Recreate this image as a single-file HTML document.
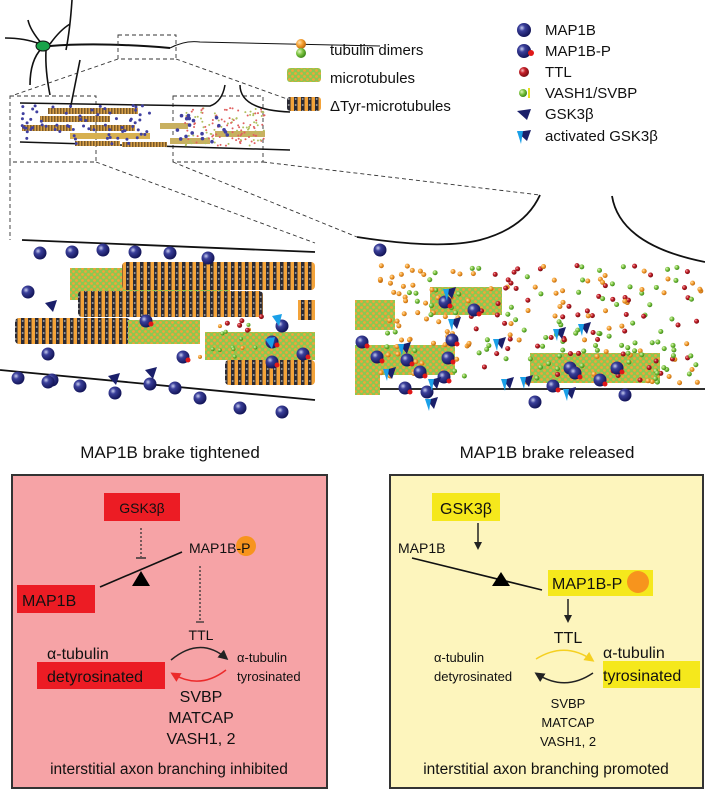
<!DOCTYPE html>
<html><head><meta charset="utf-8"><style>
body{margin:0;background:#fff;width:705px;height:790px;overflow:hidden;font-family:"Liberation Sans",sans-serif}
svg{position:absolute;left:0;top:0}
</style></head><body>
<svg width="705" height="790" viewBox="0 0 705 790" font-family="Liberation Sans, sans-serif">
<defs>
<radialGradient id="blue" cx="35%" cy="35%" r="65%"><stop offset="0" stop-color="#c8cdf0"/><stop offset="0.35" stop-color="#3a3f9a"/><stop offset="1" stop-color="#14165a"/></radialGradient>
<radialGradient id="red" cx="35%" cy="35%" r="65%"><stop offset="0" stop-color="#f6c0c0"/><stop offset="0.4" stop-color="#c8202a"/><stop offset="1" stop-color="#7a0d12"/></radialGradient>
<radialGradient id="org" cx="35%" cy="35%" r="65%"><stop offset="0" stop-color="#ffe0b0"/><stop offset="0.5" stop-color="#f5a030"/><stop offset="1" stop-color="#c06a10"/></radialGradient>
<radialGradient id="grn" cx="35%" cy="35%" r="65%"><stop offset="0" stop-color="#e0f5c0"/><stop offset="0.5" stop-color="#7cc440"/><stop offset="1" stop-color="#3f8a1a"/></radialGradient>
<pattern id="dty" width="7" height="6" patternUnits="userSpaceOnUse"><rect width="7" height="6" fill="#f3a33a"/><rect x="0" width="3.5" height="6" fill="#2a2a35"/><circle cx="1.7" cy="3" r="1" fill="#999"/></pattern>
<pattern id="mt" width="6" height="6" patternUnits="userSpaceOnUse"><rect width="6" height="6" fill="#8cc850"/><circle cx="1.5" cy="1.5" r="1.4" fill="#f3a33a"/><circle cx="4.5" cy="4.5" r="1.4" fill="#f3a33a"/></pattern>
<pattern id="dtys" width="3" height="3" patternUnits="userSpaceOnUse"><rect width="3" height="3" fill="#d7a04a"/><rect width="1.5" height="3" fill="#7a5a2a"/></pattern>
<marker id="ak" markerWidth="8" markerHeight="8" refX="6" refY="4" orient="auto" markerUnits="userSpaceOnUse"><path d="M0,0 L8,4 L0,8 Z" fill="#222"/></marker>
<marker id="ar" markerWidth="10" markerHeight="10" refX="7" refY="5" orient="auto" markerUnits="userSpaceOnUse"><path d="M0,0 L10,5 L0,10 Z" fill="#ec2a2a"/></marker>
<marker id="ay" markerWidth="10" markerHeight="10" refX="7" refY="5" orient="auto" markerUnits="userSpaceOnUse"><path d="M0,0 L10,5 L0,10 Z" fill="#f5d020"/></marker>
<marker id="ab" markerWidth="10" markerHeight="10" refX="7" refY="5" orient="auto" markerUnits="userSpaceOnUse"><path d="M0,0 L10,5 L0,10 Z" fill="#222"/></marker>
</defs>

<g stroke="#111" fill="none" stroke-width="1.6">
<path d="M5,38 Q25,38 40,44"/><path d="M72,0 Q70,30 66,50"/><path d="M42,44 Q30,30 28,20"/><path d="M42,48 Q30,60 30,85"/><path d="M46,50 Q45,70 50,95"/><path d="M50,44 Q60,30 70,24"/>
<path d="M80,60 Q75,85 70,110"/>
<path d="M50,46 Q100,42 170,48" stroke-width="2"/><path d="M170,48 Q185,40 200,42 L380,46" stroke-width="1"/>
</g>
<ellipse cx="43" cy="46" rx="7" ry="5" fill="#1aa34a" stroke="#111"/>
<g stroke="#333" fill="none" stroke-dasharray="4,3" stroke-width="0.9">
<rect x="118" y="35" width="58" height="24"/>
<path d="M118,59 L14,95 M176,59 L290,100"/>
<rect x="10" y="96" width="86" height="66"/><rect x="173" y="96" width="90" height="66"/>
<path d="M10,162 L10,240 M96,162 L315,243 M173,162 L357,237 M263,162 L540,195"/>
</g>
<g stroke="#111" fill="none" stroke-width="1.5">
<path d="M20,103 L210,106 Q222,102 225,85"/><path d="M240,85 Q240,110 290,112"/><path d="M20,142 L290,150"/>
</g>
<rect x="48" y="108" width="90" height="6" fill="url(#dtys)"/><rect x="40" y="116" width="70" height="6" fill="url(#dtys)"/>
<rect x="22" y="125" width="50" height="6" fill="url(#dtys)"/><rect x="90" y="125" width="45" height="6" fill="url(#dtys)"/>
<rect x="70" y="133" width="80" height="6" fill="#d7b050"/><rect x="75" y="141" width="45" height="5" fill="url(#dtys)"/><rect x="122" y="142" width="45" height="5" fill="url(#dtys)"/>
<rect x="160" y="123" width="28" height="6" fill="#c8b060"/><rect x="170" y="138" width="40" height="6" fill="#c8b060"/><rect x="215" y="131" width="50" height="6" fill="#c8b060"/>
<g id="insetdots"></g>

<circle cx="301" cy="44" r="5" fill="url(#org)"/><circle cx="301" cy="53" r="5" fill="url(#grn)"/>
<rect x="287" y="68" width="34" height="14" rx="3" fill="url(#mt)"/>
<rect x="287" y="97" width="34" height="14" rx="3" fill="url(#dty)"/>
<g font-size="15" fill="#111">
<text x="330" y="55">tubulin dimers</text><text x="330" y="83">microtubules</text><text x="330" y="111">ΔTyr-microtubules</text>
<text x="545" y="35">MAP1B</text><text x="545" y="56">MAP1B-P</text><text x="545" y="77">TTL</text><text x="545" y="98">VASH1/SVBP</text><text x="545" y="119">GSK3β</text><text x="545" y="141">activated GSK3β</text>
</g>
<circle cx="524" cy="30" r="7" fill="url(#blue)"/><circle cx="524" cy="51" r="7" fill="url(#blue)"/><circle cx="531" cy="53" r="3" fill="#e01818"/>
<circle cx="524" cy="72" r="5" fill="url(#red)"/><circle cx="523" cy="93" r="4" fill="url(#grn)"/><rect x="528" y="88" width="2" height="10" fill="#e8e020"/>
<path d="M517,111 L531,109 L527,120 Z" fill="#1a1f6a"/>
<path d="M517,132 L531,130 L527,141 Z" fill="#1a1f6a"/><path d="M517,131 L523,131 L521,144 Z" fill="#1aa0e8"/>

<g stroke="#111" fill="none" stroke-width="1.8"><path d="M22,240 L315,252"/><path d="M0,370 L315,400"/></g>
<rect x="70" y="268" width="160" height="32" fill="url(#mt)"/>
<rect x="122" y="262" width="193" height="28" rx="4" fill="url(#dty)"/>
<rect x="78" y="291" width="185" height="26" rx="4" fill="url(#dty)"/>
<rect x="15" y="318" width="115" height="26" rx="4" fill="url(#dty)"/>
<rect x="128" y="320" width="72" height="24" fill="url(#mt)"/>
<rect x="205" y="332" width="110" height="28" fill="url(#mt)"/>
<rect x="225" y="360" width="90" height="25" rx="4" fill="url(#dty)"/>
<rect x="298" y="300" width="17" height="20" fill="url(#dty)"/>
<g id="leftdots"></g>

<g stroke="#111" fill="none" stroke-width="1.8"><path d="M357,237 Q440,250 480,240 Q525,228 540,195"/><path d="M612,196 Q620,245 705,262"/><path d="M357,389 L705,389"/></g>
<rect x="430" y="287" width="72" height="28" fill="url(#mt)"/>
<rect x="355" y="300" width="40" height="30" fill="url(#mt)"/>
<rect x="355" y="345" width="100" height="30" fill="url(#mt)"/>
<rect x="530" y="353" width="130" height="30" fill="url(#mt)"/>
<rect x="355" y="368" width="25" height="27" fill="url(#mt)"/>
<g id="rightdots"></g>

<text x="170" y="458" font-size="17" text-anchor="middle" fill="#111">MAP1B brake tightened</text>
<text x="547" y="458" font-size="17" text-anchor="middle" fill="#111">MAP1B brake released</text>

<rect x="12" y="475" width="315" height="313" fill="#f6a3a6" stroke="#333" stroke-width="2"/>
<rect x="104" y="493" width="76" height="28" fill="#ec1c24"/>
<text x="142" y="513" font-size="14" text-anchor="middle" fill="#111">GSK3β</text>
<path d="M141,528 L141,557" stroke="#333" stroke-dasharray="2,2" stroke-width="1.3"/><path d="M136,558 L146,558" stroke="#333" stroke-width="1.5"/>
<circle cx="246" cy="546" r="10" fill="#f7941d"/>
<text x="189" y="553" font-size="14" fill="#111">MAP1B-P</text>
<path d="M100,587 L182,552" stroke="#111" stroke-width="1.6"/>
<path d="M141,571 L150,586 L132,586 Z" fill="#000"/>
<path d="M200,566 L200,621" stroke="#333" stroke-dasharray="2,2" stroke-width="1.3"/><path d="M196,622 L204,622" stroke="#333" stroke-width="1.3"/>
<rect x="17" y="585" width="78" height="28" fill="#ec1c24"/>
<text x="22" y="606" font-size="16" fill="#111">MAP1B</text>
<text x="201" y="640" font-size="14" text-anchor="middle" fill="#111">TTL</text>
<path d="M171,660 Q200,636 226,658" stroke="#222" stroke-width="1.5" fill="none" marker-end="url(#ab)"/>
<path d="M226,670 Q200,690 173,674" stroke="#ec2a2a" stroke-width="1.5" fill="none" marker-end="url(#ar)"/>
<text x="47" y="659" font-size="16" fill="#111">α-tubulin</text>
<rect x="37" y="662" width="128" height="27" fill="#ec1c24"/>
<text x="47" y="682" font-size="16" fill="#111">detyrosinated</text>
<text x="237" y="662" font-size="13" fill="#111">α-tubulin</text><text x="237" y="681" font-size="13" fill="#111">tyrosinated</text>
<g font-size="16" text-anchor="middle" fill="#111"><text x="201" y="702">SVBP</text><text x="201" y="723">MATCAP</text><text x="201" y="744">VASH1, 2</text></g>
<text x="169" y="774" font-size="15.5" text-anchor="middle" fill="#111">interstitial axon branching inhibited</text>

<rect x="390" y="475" width="313" height="313" fill="#fdf5bd" stroke="#333" stroke-width="2"/>
<rect x="432" y="493" width="68" height="28" fill="#f5e81c"/>
<text x="466" y="514" font-size="16" text-anchor="middle" fill="#111">GSK3β</text>
<path d="M478,523 L478,548" stroke="#222" stroke-width="1.5" marker-end="url(#ak)"/>
<text x="398" y="553" font-size="14" fill="#111">MAP1B</text>
<path d="M412,558 L542,590" stroke="#111" stroke-width="1.6"/>
<path d="M501,572 L510,586 L492,586 Z" fill="#000"/>
<rect x="548" y="570" width="105" height="26" fill="#f5e81c"/>
<circle cx="638" cy="582" r="11" fill="#f7941d"/>
<text x="552" y="589" font-size="16" fill="#111">MAP1B-P</text>
<path d="M568,599 L568,621" stroke="#222" stroke-width="1.5" marker-end="url(#ak)"/>
<text x="568" y="643" font-size="16" text-anchor="middle" fill="#111">TTL</text>
<path d="M536,659 Q565,641 592,660" stroke="#f5d020" stroke-width="1.5" fill="none" marker-end="url(#ay)"/>
<path d="M593,673 Q565,692 537,674" stroke="#222" stroke-width="1.5" fill="none" marker-end="url(#ab)"/>
<text x="434" y="662" font-size="13" fill="#111">α-tubulin</text><text x="434" y="681" font-size="13" fill="#111">detyrosinated</text>
<text x="603" y="658" font-size="16" fill="#111">α-tubulin</text>
<rect x="603" y="661" width="97" height="27" fill="#f5e81c"/>
<text x="603" y="681" font-size="16" fill="#111">tyrosinated</text>
<g font-size="13" text-anchor="middle" fill="#111"><text x="568" y="708">SVBP</text><text x="568" y="727">MATCAP</text><text x="568" y="746">VASH1, 2</text></g>
<text x="546" y="774" font-size="15.5" text-anchor="middle" fill="#111">interstitial axon branching promoted</text>
</svg>
<script>
(function(){
var s=7;function r(){s=(s*16807)%2147483647;return s/2147483647;}
var NS="http://www.w3.org/2000/svg";
function c(g,x,y,rad,f){var e=document.createElementNS(NS,"circle");e.setAttribute("cx",x);e.setAttribute("cy",y);e.setAttribute("r",rad);e.setAttribute("fill",f);g.appendChild(e);}
function p(g,d,f){var e=document.createElementNS(NS,"path");e.setAttribute("d",d);e.setAttribute("fill",f);g.appendChild(e);}
var L=document.getElementById("leftdots"),R=document.getElementById("rightdots"),I=document.getElementById("insetdots");
[[40,253],[72,252],[103,250],[135,252],[170,253],[208,258],[28,292],[48,354],[18,378],[52,380],[80,386],[115,393],[150,384],[175,388],[200,398],[240,408],[282,412],[282,326],[48,382]].forEach(function(a){c(L,a[0],a[1],6.5,"url(#blue)");});
[[146,321],[183,357],[272,362],[303,354],[272,342]].forEach(function(a){c(L,a[0],a[1],6.5,"url(#blue)");c(L,a[0]+5,a[1]+3,2.5,"#e01818");});
[[45,303],[108,376],[145,370]].forEach(function(a){p(L,"M"+a[0]+","+a[1]+" l12,-3 l-4,12 z","#1a1f6a");});
[[265,339],[272,316]].forEach(function(a){p(L,"M"+a[0]+","+a[1]+" l10,-2 l-3,12 z","#1aa0e8");});
for(var i=0;i<14;i++){c(L,200+r()*60,320+r()*40,2,r()<0.5?"url(#org)":"url(#grn)");}
for(var i=0;i<5;i++){c(L,225+r()*40,315+r()*30,2.5,"url(#red)");}
for(var i=0;i<260;i++){var x=380+r()*322,y=265+r()*118;var q=r();var f=(x>470&&x<700&&q<0.35)?"url(#red)":(q<0.65?"url(#org)":"url(#grn)");c(R,x,y,2.5,f);}
[[380,250]].forEach(function(a){c(R,a[0],a[1],6.5,"url(#blue)");});
[[427,392],[535,402],[625,395]].forEach(function(a){c(R,a[0],a[1],6.5,"url(#blue)");});
[[445,302],[474,310],[452,340],[362,342],[377,357],[407,360],[420,372],[405,388],[444,377],[448,358],[553,386],[570,368],[600,380],[617,368],[575,373]].forEach(function(a){c(R,a[0],a[1],6.5,"url(#blue)");c(R,a[0]+5,a[1]+4,2.5,"#e01818");});
[[445,290],[495,340],[450,320],[400,345],[555,330],[580,325],[503,380],[522,378],[565,390],[427,400],[430,380],[385,370]].forEach(function(a,k){p(R,"M"+a[0]+","+a[1]+" l11,-3 l-4,12 z","#1a1f6a");p(R,"M"+(a[0]-2)+","+(a[1]-1)+" l6,0 l-2,12 z","#1aa0e8");});
for(var i=0;i<70;i++){c(I,22+r()*130,105+r()*40,1.5,"#4040a0");}
for(var i=0;i<150;i++){c(I,185+r()*80,108+r()*38,1,r()<0.5?"#e06060":"#b0c060");}
for(var i=0;i<18;i++){c(I,175+r()*70,112+r()*32,1.8,"#4040a0");}
})();
</script>
</body></html>
